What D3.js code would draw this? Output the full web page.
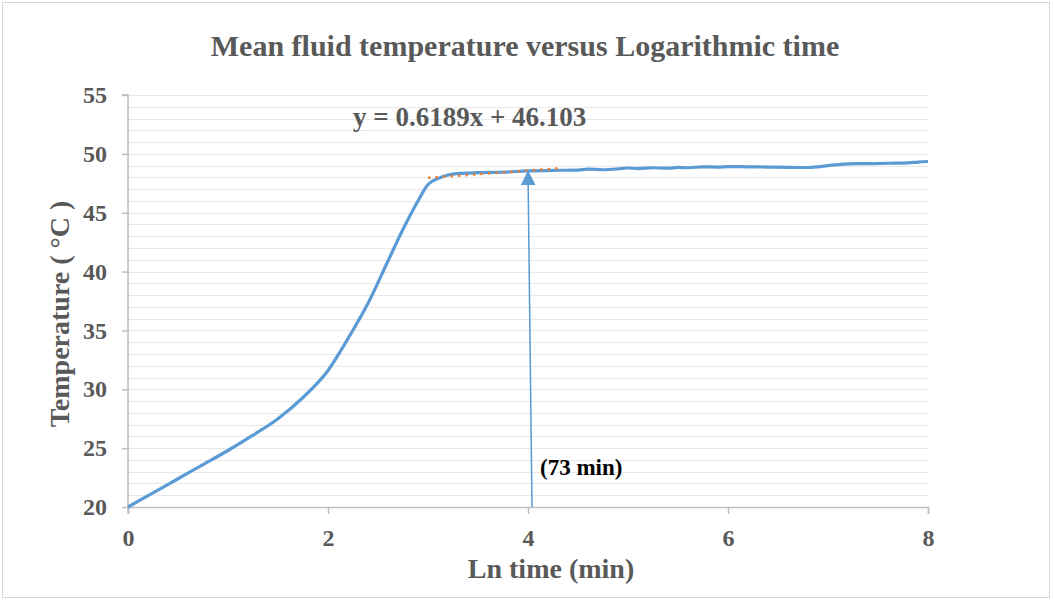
<!DOCTYPE html>
<html>
<head>
<meta charset="utf-8">
<script src="https://cdn.jsdelivr.net/npm/d3@7"></script>
<style>
  body { margin: 0; background: #fff; }
  text { font-family: "Liberation Serif", "Times New Roman", serif; }
</style>
</head>
<body>
<div class="chart"></div>
<script>
var svgWidth = 1053;
var svgHeight = 603;

var margin = { top: 95, right: 125, bottom: 96, left: 128 };
var width = svgWidth - margin.left - margin.right;
var height = svgHeight - margin.top - margin.bottom;

// ln(time) values and mean fluid temperature
var lnTime = [0, 0.25, 0.5, 0.75, 1.0, 1.25, 1.5, 1.75, 2.0, 2.2, 2.4, 2.6, 2.75, 2.9, 3.0, 3.1, 3.2, 3.35, 3.5, 3.75,
  4.0, 4.25, 4.5, 4.6, 4.75, 4.9, 5.0, 5.1, 5.25, 5.4, 5.5, 5.6, 5.75, 5.9, 6.0, 6.2, 6.4, 6.6, 6.8, 6.9,
  7.0, 7.1, 7.2, 7.4, 7.6, 7.8, 7.9, 8.0];
var temperature = [20, 21.2, 22.4, 23.6, 24.8, 26.1, 27.5, 29.3, 31.6, 34.3, 37.3, 40.9, 43.6, 46.0, 47.4, 47.9, 48.2, 48.35, 48.4, 48.45,
  48.55, 48.6, 48.62, 48.7, 48.65, 48.72, 48.8, 48.75, 48.82, 48.78, 48.85, 48.82, 48.9, 48.88, 48.92, 48.9, 48.88, 48.85, 48.84, 48.9,
  49.0, 49.08, 49.15, 49.17, 49.2, 49.23, 49.3, 49.35];

// linear trendline y = 0.6189x + 46.103
var trendSlope = 0.6189;
var trendIntercept = 46.103;
var trendRange = [3.0, 4.3];

// arrow marking 73 min
var arrowX = [4.04, 4.0];
var arrowY = [20, 48.6];

var xTicks = [0, 2, 4, 6, 8];
var yTicks = [20, 25, 30, 35, 40, 45, 50, 55];
var yGrid = d3.range(20, 56, 1);

var svg = d3.select(".chart")
  .append("svg")
  .attr("width", svgWidth)
  .attr("height", svgHeight);

svg.append("rect")
  .attr("x", 2.5)
  .attr("y", 2.5)
  .attr("width", svgWidth - 6)
  .attr("height", svgHeight - 8)
  .attr("fill", "#fff")
  .attr("stroke", "#d9d9d9");

var chartGroup = svg.append("g")
  .attr("transform", `translate(${margin.left}, ${margin.top})`);

var xScale = d3.scaleLinear().domain([0, 8]).range([0, width]);
var yScale = d3.scaleLinear().domain([20, 55]).range([height, 0]);

// gridlines every 1 degree
chartGroup.append("g")
  .selectAll("line")
  .data(yGrid.filter(d => d > 20))
  .enter()
  .append("line")
  .attr("x1", 0)
  .attr("x2", width)
  .attr("y1", d => Math.round(yScale(d)) + 0.5)
  .attr("y2", d => Math.round(yScale(d)) + 0.5)
  .attr("stroke", "#e8e8e8")
  .attr("stroke-width", 1);

var bottomAxis = d3.axisBottom(xScale).tickValues(xTicks).tickSize(7).tickPadding(15);
var leftAxis = d3.axisLeft(yScale).tickValues(yTicks).tickSize(6).tickPadding(15);

var xAxisG = chartGroup.append("g")
  .attr("transform", `translate(0, ${height})`)
  .call(bottomAxis);

var yAxisG = chartGroup.append("g")
  .call(leftAxis);

[xAxisG, yAxisG].forEach(function(g) {
  g.select(".domain").attr("stroke", "#bfbfbf").attr("stroke-width", 1.5);
  g.selectAll(".tick line").attr("stroke", "#bfbfbf").attr("stroke-width", 1.5);
  g.selectAll(".tick text")
    .attr("fill", "#595959")
    .attr("font-family", "Liberation Serif")
    .attr("font-weight", "bold")
    .attr("font-size", "24px");
});
yAxisG.select(".domain").attr("d", `M0,${height + 6}V0H-6`);

// data curve
var line = d3.line()
  .x((d, i) => xScale(lnTime[i]))
  .y(d => yScale(d))
  .curve(d3.curveMonotoneX);

chartGroup.append("path")
  .datum(temperature)
  .attr("d", line)
  .attr("fill", "none")
  .attr("stroke", "#5b9bd5")
  .attr("stroke-width", 3.2);

// trendline
chartGroup.append("line")
  .attr("x1", xScale(trendRange[0]))
  .attr("y1", yScale(trendSlope * trendRange[0] + trendIntercept))
  .attr("x2", xScale(trendRange[1]))
  .attr("y2", yScale(trendSlope * trendRange[1] + trendIntercept))
  .attr("stroke", "#ed7d31")
  .attr("stroke-width", 2.5)
  .attr("stroke-dasharray", "2.5,5");

// arrow
svg.append("defs").append("marker")
  .attr("id", "arrowhead")
  .attr("viewBox", "0 0 10 10")
  .attr("refX", 10)
  .attr("refY", 5)
  .attr("markerUnits", "userSpaceOnUse")
  .attr("markerWidth", 15)
  .attr("markerHeight", 16)
  .attr("orient", "auto")
  .append("path")
  .attr("d", "M0,0L10,5L0,10Z")
  .attr("fill", "#5b9bd5");

chartGroup.append("line")
  .attr("x1", xScale(arrowX[0]))
  .attr("y1", yScale(arrowY[0]))
  .attr("x2", xScale(arrowX[1]))
  .attr("y2", yScale(arrowY[1]))
  .attr("stroke", "#5b9bd5")
  .attr("stroke-width", 1.5)
  .attr("marker-end", "url(#arrowhead)");

chartGroup.append("text")
  .attr("x", xScale(4.12))
  .attr("y", yScale(22.7))
  .attr("font-size", "23px")
  .attr("font-weight", "bold")
  .attr("fill", "#000")
  .text("(73 min)");

// equation label
chartGroup.append("text")
  .attr("x", xScale(2.25))
  .attr("y", yScale(52.4))
  .attr("font-size", "27px")
  .attr("font-weight", "bold")
  .attr("fill", "#595959")
  .text("y = 0.6189x + 46.103");

// title
svg.append("text")
  .attr("x", 525)
  .attr("y", 56)
  .attr("text-anchor", "middle")
  .attr("font-size", "30px")
  .attr("font-weight", "bold")
  .attr("fill", "#595959")
  .text("Mean fluid temperature versus Logarithmic time");

// axis titles
svg.append("text")
  .attr("x", 551)
  .attr("y", 578)
  .attr("text-anchor", "middle")
  .attr("font-size", "28px")
  .attr("font-weight", "bold")
  .attr("fill", "#595959")
  .text("Ln time (min)");

svg.append("text")
  .attr("transform", "translate(69, 314) rotate(-90)")
  .attr("text-anchor", "middle")
  .attr("font-size", "28px")
  .attr("font-weight", "bold")
  .attr("fill", "#595959")
  .text("Temperature ( °C )");
</script>
</body>
</html>
